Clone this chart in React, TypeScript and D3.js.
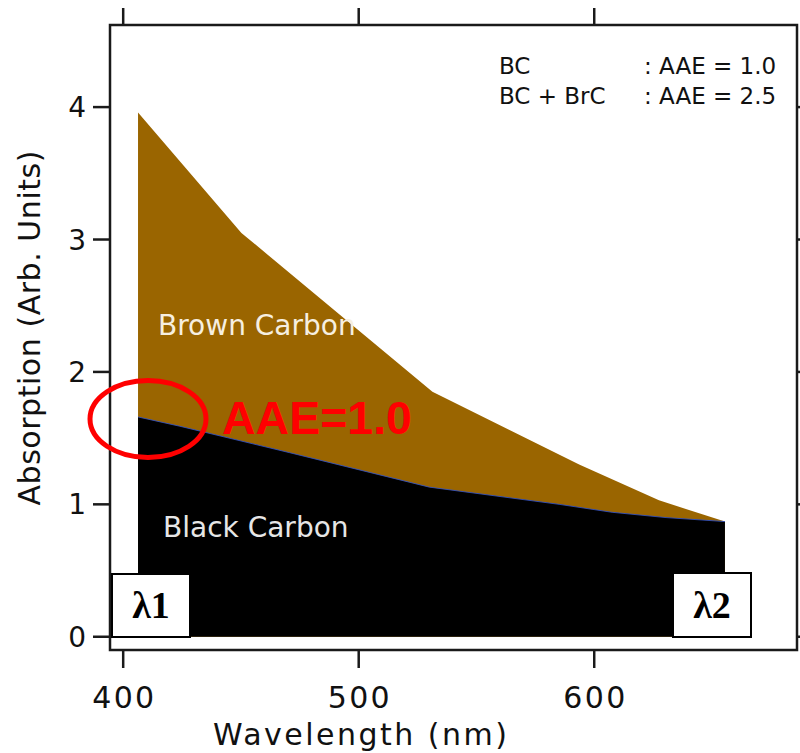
import React from "react";
import * as d3 from "d3";

// Axis ticks
const wavelengthTicks = [400, 500, 600];
const absorptionTicks = [0, 1, 2, 3, 4];

// Total absorption (BC + BrC)
const totalWavelengths = [406.3, 450.2, 531.3, 593.6, 627.5, 655.5];
const totalAbsorption = [3.96, 3.05, 1.85, 1.3, 1.03, 0.87];

// Black carbon absorption
const bcWavelengths = [406.3, 424, 470.7, 530, 585.1, 607.6, 630.5, 655.5];
const bcAbsorption = [1.66, 1.59, 1.39, 1.13, 1.0, 0.94, 0.9, 0.87];

// Legend entries
const legendNames = ["BC", "BC + BrC"];
const legendAAE = [": AAE = 1.0", ": AAE = 2.5"];

const W = 800;
const H = 753;
const frame = { left: 110, right: 797, top: 25, bottom: 650 };

const sans = "'DejaVu Sans', Verdana, sans-serif";

export default function App() {
  const x = d3.scaleLinear().domain([394.4, 686.1]).range([frame.left, frame.right]);
  const y = d3.scaleLinear().domain([-0.1, 4.62]).range([frame.bottom, frame.top]);

  const total: [number, number][] = totalWavelengths.map((w, i) => [w, totalAbsorption[i]]);
  const bc: [number, number][] = bcWavelengths.map((w, i) => [w, bcAbsorption[i]]);

  const area = d3
    .area<[number, number]>()
    .x((d) => x(d[0]))
    .y0(y(0))
    .y1((d) => y(d[1]));
  const line = d3
    .line<[number, number]>()
    .x((d) => x(d[0]))
    .y((d) => y(d[1]));

  const tickStroke = "#1a1a1a";

  return (
    <svg
      width={W}
      height={H}
      style={{ position: "absolute", left: 0, top: 0, background: "#fff" }}
    >
      {/* absorption areas */}
      <path d={area(total) ?? ""} fill="#9a6500" />
      <path d={area(bc) ?? ""} fill="#000" />
      <path d={line(bc) ?? ""} fill="none" stroke="#2f55d4" strokeWidth={1} opacity={0.8} />

      {/* frame */}
      <rect
        x={frame.left}
        y={frame.top}
        width={frame.right - frame.left}
        height={frame.bottom - frame.top}
        fill="none"
        stroke={tickStroke}
        strokeWidth={2.5}
      />

      {/* y ticks */}
      {absorptionTicks.map((t) => (
        <g key={"y" + t}>
          <line x1={93} x2={frame.left} y1={y(t)} y2={y(t)} stroke={tickStroke} strokeWidth={2.5} />
          <line x1={frame.right} x2={frame.right + 17} y1={y(t)} y2={y(t)} stroke={tickStroke} strokeWidth={2.5} />
          <text x={86} y={y(t) + 10} textAnchor="end" fontFamily={sans} fontSize={28} fill="#111">
            {t}
          </text>
        </g>
      ))}

      {/* x ticks */}
      {wavelengthTicks.map((t) => (
        <g key={"x" + t}>
          <line x1={x(t)} x2={x(t)} y1={frame.bottom} y2={668} stroke={tickStroke} strokeWidth={2.5} />
          <line x1={x(t)} x2={x(t)} y1={8} y2={frame.top} stroke={tickStroke} strokeWidth={2.5} />
          <text
            x={x(t)}
            y={708}
            textAnchor="middle"
            fontFamily={sans}
            fontSize={30}
            fill="#111"
            textLength={62}
            lengthAdjust="spacing"
          >
            {t}
          </text>
        </g>
      ))}

      {/* axis titles */}
      <text
        x={360}
        y={745}
        textAnchor="middle"
        fontFamily={sans}
        fontSize={30}
        fill="#111"
        textLength={294}
        lengthAdjust="spacing"
      >
        Wavelength (nm)
      </text>
      <text
        transform="translate(40,328) rotate(-90)"
        textAnchor="middle"
        fontFamily={sans}
        fontSize={30}
        fill="#111"
        textLength={355}
        lengthAdjust="spacing"
      >
        Absorption (Arb. Units)
      </text>

      {/* legend */}
      {legendNames.map((n, i) => (
        <g key={n}>
          <text x={499} y={74 + i * 30} fontFamily={sans} fontSize={23} fill="#111">
            {n}
          </text>
          <text x={644} y={74 + i * 30} fontFamily={sans} fontSize={23} fill="#111">
            {legendAAE[i]}
          </text>
        </g>
      ))}

      {/* area labels */}
      <text x={158} y={335} fontFamily={sans} fontSize={28} fill="#f6efe0">
        Brown Carbon
      </text>
      <text x={163} y={537} fontFamily={sans} fontSize={28} fill="#e6e6e6">
        Black Carbon
      </text>

      {/* annotation */}
      <ellipse cx={148} cy={419} rx={58} ry={38.5} fill="none" stroke="#ff0000" strokeWidth={5} />
      <text
        x={222}
        y={434}
        fontFamily="'Liberation Sans', Arial, sans-serif"
        fontWeight="bold"
        fontSize={47}
        fill="#ff0000"
        textLength={190}
        lengthAdjust="spacingAndGlyphs"
      >
        AAE=1.0
      </text>

      {/* wavelength markers */}
      <rect x={112} y={574} width={78} height={63} fill="#fff" stroke="#000" strokeWidth={2} />
      <text
        x={151}
        y={618}
        textAnchor="middle"
        fontFamily="'Liberation Serif', 'Times New Roman', serif"
        fontWeight="bold"
        fontSize={38}
        fill="#000"
      >
        λ1
      </text>
      <rect x={673} y={573} width={78} height={64} fill="#fff" stroke="#000" strokeWidth={2} />
      <text
        x={712}
        y={618}
        textAnchor="middle"
        fontFamily="'Liberation Serif', 'Times New Roman', serif"
        fontWeight="bold"
        fontSize={38}
        fill="#000"
      >
        λ2
      </text>
    </svg>
  );
}
